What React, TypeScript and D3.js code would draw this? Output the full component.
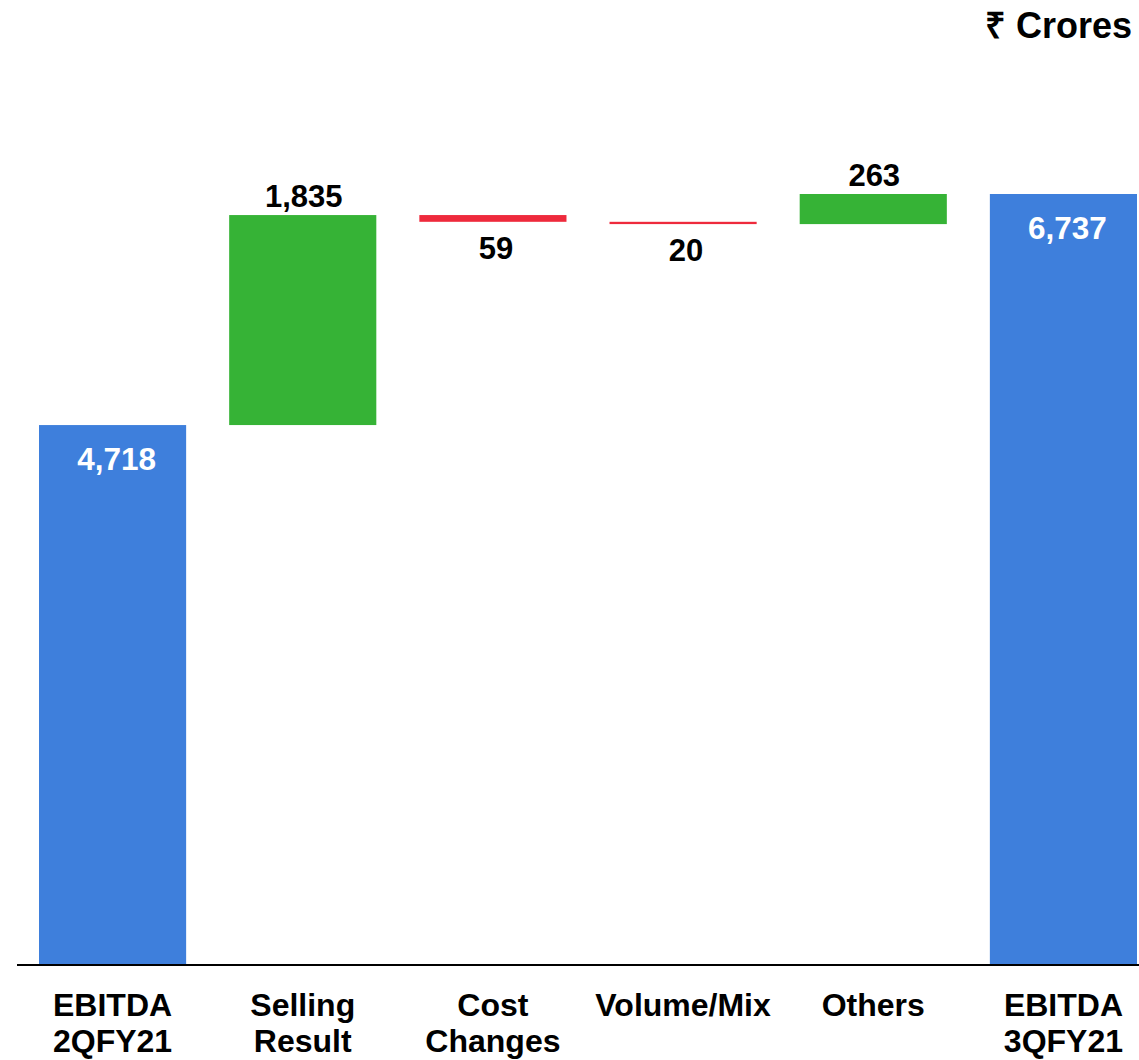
import React from "react";
import * as d3 from "d3";

const categories: string[][] = [
  ["EBITDA", "2QFY21"],
  ["Selling", "Result"],
  ["Cost", "Changes"],
  ["Volume/Mix"],
  ["Others"],
  ["EBITDA", "3QFY21"],
];
const kinds = ["total", "delta", "delta", "delta", "delta", "total"];
const values = [4718, 1835, -59, -20, 263, 6737];
const valueLabels = ["4,718", "1,835", "59", "20", "263", "6,737"];
const unitLabel = "₹ Crores";

const W = 1139;
const H = 1060;
const BLUE = "#3e7fdc";
const GREEN = "#36b336";
const RED = "#ee2a3c";
const FONT = "'Liberation Sans', Arial, sans-serif";

export default function App() {
  const x = d3
    .scaleBand<number>()
    .domain(d3.range(values.length))
    .range([39, 1137])
    .paddingInner(0.2263)
    .paddingOuter(0);
  const y = d3.scaleLinear().domain([0, 6737]).range([965, 194]);

  let running = 0;
  const bars = values.map((v, i) => {
    let lo: number, hi: number;
    if (kinds[i] === "total") {
      lo = 0;
      hi = v;
      running = v;
    } else {
      const start = running;
      running = running + v;
      lo = Math.min(start, running);
      hi = Math.max(start, running);
    }
    const color = kinds[i] === "total" ? BLUE : v >= 0 ? GREEN : RED;
    return { i, lo, hi, v, color };
  });

  return (
    <svg
      width={W}
      height={H}
      style={{ position: "absolute", left: 0, top: 0, background: "#fff" }}
      fontFamily={FONT}
    >
      <text x={1132} y={38} textAnchor="end" fontSize={36} fontWeight="bold" fill="#000">
        {unitLabel}
      </text>
      {bars.map((b) => {
        const bx = x(b.i)!;
        const bw = x.bandwidth();
        const cx = bx + bw / 2 + 3;
        const top = y(b.hi);
        const bottom = y(b.lo);
        let label;
        if (kinds[b.i] === "total") {
          label = (
            <text x={cx + 1} y={top + 45} textAnchor="middle" fontSize={31.5} fontWeight="bold" fill="#fff">
              {valueLabels[b.i]}
            </text>
          );
        } else if (b.v >= 0) {
          label = (
            <text x={cx - 2} y={top - 8} textAnchor="middle" fontSize={31} fontWeight="bold" fill="#000">
              {valueLabels[b.i]}
            </text>
          );
        } else {
          label = (
            <text x={cx} y={bottom + 37} textAnchor="middle" fontSize={31} fontWeight="bold" fill="#000">
              {valueLabels[b.i]}
            </text>
          );
        }
        return (
          <g key={b.i}>
            <rect x={bx} y={top} width={bw} height={Math.max(1.2, bottom - top)} fill={b.color} />
            {label}
          </g>
        );
      })}
      <line x1={17} x2={W} y1={965} y2={965} stroke="#000" strokeWidth={2} />
      {categories.map((lines, i) => {
        const cx = x(i)! + x.bandwidth() / 2;
        return (
          <text key={i} x={cx} textAnchor="middle" fontSize={32} fontWeight="bold" fill="#000">
            {lines.map((l, j) => (
              <tspan key={j} x={cx} y={1016 + j * 36}>
                {l}
              </tspan>
            ))}
          </text>
        );
      })}
    </svg>
  );
}
